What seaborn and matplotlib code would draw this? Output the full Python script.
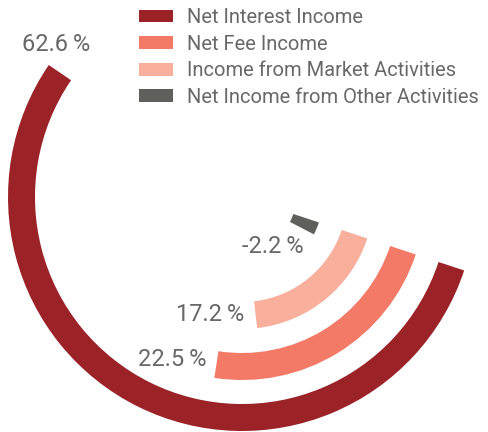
import numpy as np
import matplotlib
matplotlib.use("Agg")
import matplotlib.pyplot as plt
import seaborn as sns
from matplotlib.patches import Patch

# --- données (parts du produit net bancaire, %) ---
categories = [
    "Net Interest Income",
    "Net Fee Income",
    "Income from Market Activities",
    "Net Income from Other Activities",
]
shares = [62.6, 22.5, 17.2, -2.2]
colors = ["#9b2226", "#f27a66", "#f8b09c", "#5f5f5c"]

# --- style ---
sns.set_theme(style="white")
plt.rcParams['font.family'] = ['Roboto', 'DejaVu Sans']
TEXT_GREY = "#686868"

# échelle angulaire (degrés) : span = offset + pente * valeur
DEG_OFFSET = 15.5
DEG_PER_PCT = 2.884
END_ANGLE = -18.3  # ligne commune de fin des arcs

# géométrie en pixels
W, H = 488, 432
CX, CY = 242, 197
R_AX = 236
R_OUT = 234
THICK = 27
PITCH = 51

fig = plt.figure(figsize=(W / 100, H / 100), dpi=100)
ax = fig.add_axes([(CX - R_AX) / W, (H - CY - R_AX) / H, 2 * R_AX / W, 2 * R_AX / H],
                  projection='polar')
ax.set_theta_offset(np.radians(END_ANGLE))
ax.set_theta_direction(-1)
ax.set_ylim(0, R_AX)
ax.axis('off')

# décalages des étiquettes (points) : (dx, dy, ha)
label_offsets = [(-3, 20, 'center'), (-7, 3.5, 'right'), (-8.5, 0.5, 'right'), (1.5, -13, 'right')]

for i, (val, col) in enumerate(zip(shares, colors)):
    span = np.radians(DEG_OFFSET + DEG_PER_PCT * val)
    inner = R_OUT - THICK - i * PITCH
    ax.bar(0, THICK, width=span, bottom=inner, align='edge', color=col, linewidth=0)
    dx, dy, ha = label_offsets[i]
    ax.annotate(f"{val:.1f}\u2009%", xy=(span, inner + THICK / 2), xytext=(dx, dy),
                textcoords='offset points', ha=ha, va='center',
                fontsize=17, color=TEXT_GREY)

handles = [Patch(facecolor=c, edgecolor='none') for c in colors]
fig.legend(handles, categories, loc='upper left', bbox_to_anchor=(139 / W, 1 - 8 / H),
           frameon=False, borderpad=0, borderaxespad=0, fontsize=14.5,
           handlelength=1.7, handleheight=0.6, handletextpad=0.68,
           labelspacing=0.38, labelcolor=TEXT_GREY)

fig.savefig("out.png", dpi=100)
plt.close(fig)
